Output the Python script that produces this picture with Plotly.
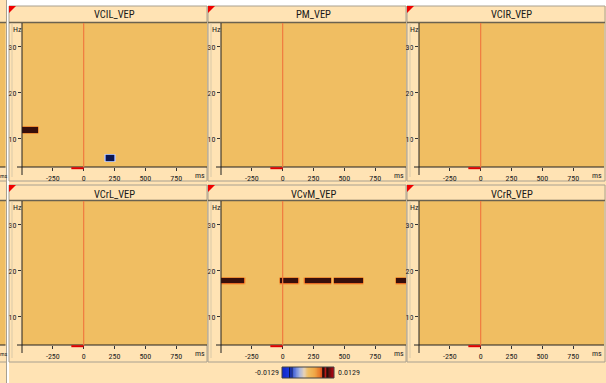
import numpy as np
import plotly.graph_objects as go

W, H = 606, 383
FONT = "Roboto Condensed, DejaVu Sans Condensed, sans-serif"

# ---------------- data ----------------
channels = ["VCIL_VEP", "PM_VEP", "VCIR_VEP", "VCrL_VEP", "VCvM_VEP", "VCrR_VEP"]
x_tickvals = [-250, 0, 250, 500, 750]
x_ticktext = ["-250", "0", "250", "500", "750"]
y_tickvals = [10, 20, 30]
y_ticktext = ["10", "20", "30"]
time_range = [-500, 1000]
freq_range = [3.9, 35.2]
z_limit = 0.0129
z_labels = ["-0.0129", "0.0129"]
baseline_ms = [-100, 0]

# significant clusters per channel: start ms, end ms, low Hz, high Hz, value
blob_channel = ["VCIL_VEP", "VCIL_VEP",
                "VCvM_VEP", "VCvM_VEP", "VCvM_VEP", "VCvM_VEP", "VCvM_VEP"]
blob_t0 = [-500, 170, -500, -35, 168, 411, 914]
blob_t1 = [-365, 240, -319, 135, 387, 646, 1000]
blob_f0 = [11.3, 5.4, 17.2, 17.2, 17.2, 17.2, 17.2]
blob_f1 = [12.6, 6.8, 18.9, 18.9, 18.9, 18.9, 18.9]
blob_val = [0.0091, -0.0091, 0.0091, 0.0091, 0.0091, 0.0091, 0.0091]

# time-frequency sampling grid
t_grid = np.arange(-500, 1001, 20)
f_grid = np.arange(3.5, 35.6, 0.5)

colorscale = [
    [0.00, "#1026C8"], [0.12, "#1A38DC"], [0.13, "#0C1650"], [0.15, "#0C1650"],
    [0.165, "#2644D8"], [0.19, "#101C60"], [0.22, "#4A68DA"], [0.33, "#A4B4E2"],
    [0.42, "#E6D2B8"], [0.50, "#F0BE62"], [0.62, "#F0A848"], [0.72, "#E87828"],
    [0.76, "#E05020"], [0.775, "#2A0E0A"], [0.805, "#2A0E0A"], [0.83, "#C81818"],
    [0.855, "#2A0E0A"], [0.875, "#2A0E0A"], [0.90, "#5A1010"], [1.00, "#C80012"],
]

# ---------------- geometry (pixels) ----------------
panel_left = [9, 208, 407]
plot_left = [22, 221, 419]
plot_right = [207, 406, 604]
panel_right = [207, 406, 605]
panel_top = [6, 185]
plot_top = [23, 201]
plot_bottom = [167, 345]
panel_bottom = [181, 362]
cbar_box = [282, 334, 367, 378]  # left, right, top, bottom


def PX(x):
    return x / W


def PY(y):
    return 1 - y / H


BEIGE = "#FFE3B4"
ORANGE = "#F0BE62"
TXT = "#222222"

fig = go.Figure()
shapes = []
annotations = []
layout_axes = {}

for i, ch in enumerate(channels):
    r, c = divmod(i, 3)
    k = i + 1
    xa = "x" if k == 1 else f"x{k}"
    ya = "y" if k == 1 else f"y{k}"
    z = np.zeros((len(f_grid), len(t_grid)))
    for bc, t0, t1, f0, f1, v in zip(blob_channel, blob_t0, blob_t1, blob_f0, blob_f1, blob_val):
        if bc != ch:
            continue
        fm = (f_grid >= f0) & (f_grid <= f1)
        tm = (t_grid >= t0) & (t_grid <= t1)
        z[np.ix_(fm, tm)] = v
    fig.add_trace(go.Heatmap(
        x=t_grid, y=f_grid, z=z, colorscale=colorscale, zmin=-z_limit, zmax=z_limit,
        zsmooth="best", xaxis=xa, yaxis=ya, hoverinfo="skip", showscale=False,
    ))

    xkey = "xaxis" if k == 1 else f"xaxis{k}"
    ykey = "yaxis" if k == 1 else f"yaxis{k}"
    layout_axes[xkey] = dict(
        domain=[PX(plot_left[c]), PX(plot_right[c])], anchor=ya, range=time_range,
        tickvals=x_tickvals, ticktext=x_ticktext, ticks="outside", ticklen=3,
        tickwidth=1, tickcolor="#333", showgrid=False, zeroline=False, showline=False,
        tickfont=dict(family=FONT, size=8, color=TXT), fixedrange=True,
    )
    layout_axes[ykey] = dict(
        domain=[PY(plot_bottom[r]), PY(plot_top[r])], anchor=xa, range=freq_range,
        tickvals=y_tickvals, ticktext=y_ticktext, ticks="outside", ticklen=3,
        tickwidth=1, tickcolor="#333", showgrid=False, zeroline=False, showline=False,
        tickfont=dict(family=FONT, size=8, color=TXT), fixedrange=True,
    )

    pl, pr, pt, pb = plot_left[c], plot_right[c], plot_top[r], plot_bottom[r]
    L, R, T, B = panel_left[c], panel_right[c], panel_top[r], panel_bottom[r]
    shapes.append(dict(type="rect", xref="paper", yref="paper", x0=PX(L), x1=PX(R),
                       y0=PY(B), y1=PY(T), line=dict(color="#A8A090", width=1),
                       fillcolor="rgba(0,0,0,0)", layer="below"))
    shapes.append(dict(type="line", xref="paper", yref="paper", x0=PX(L), x1=PX(R),
                       y0=PY(pt - 0.5), y1=PY(pt - 0.5), line=dict(color="#6A6250", width=1.5)))
    shapes.append(dict(type="line", xref="paper", yref="paper", x0=PX(L + 3), x1=PX(L + 3),
                       y0=PY(pt), y1=PY(B - 4), line=dict(color="#D9C9A8", width=1)))
    shapes.append(dict(type="line", xref="paper", yref="paper", x0=PX(pl - 5), x1=PX(pr),
                       y0=PY(pb), y1=PY(pb), line=dict(color="#202020", width=1)))
    shapes.append(dict(type="line", xref="paper", yref="paper", x0=PX(pl), x1=PX(pl),
                       y0=PY(pt), y1=PY(pb + 8), line=dict(color="#202020", width=1)))
    shapes.append(dict(type="line", xref=xa, yref=f"{ya} domain", x0=0, x1=0, y0=0, y1=1,
                       line=dict(color="#F07A40", width=1.2)))
    shapes.append(dict(type="line", xref=xa, yref=f"{ya} domain", x0=baseline_ms[0],
                       x1=baseline_ms[1], y0=-1.2 / (pb - pt), y1=-1.2 / (pb - pt),
                       line=dict(color="#E00000", width=2)))
    shapes.append(dict(type="path", xref="paper", yref="paper",
                       path=f"M {PX(L)},{PY(T)} L {PX(L + 7)},{PY(T)} L {PX(L)},{PY(T + 7)} Z",
                       fillcolor="#F00000", line=dict(width=0)))
    annotations.append(dict(text=ch, xref="paper", yref="paper", x=PX((pl + pr) / 2),
                            y=PY(T + 9), xanchor="center", yanchor="middle", showarrow=False,
                            font=dict(family=FONT, size=10.5, color="#181818")))
    annotations.append(dict(text="Hz", xref="paper", yref="paper", x=PX(pl - 5),
                            y=PY(pt + 6.5), xanchor="center", yanchor="middle", showarrow=False,
                            font=dict(family=FONT, size=8, color=TXT)))
    annotations.append(dict(text="ms", xref="paper", yref="paper", x=PX(pr - 7),
                            y=PY(pb + 8.5), xanchor="center", yanchor="middle", showarrow=False,
                            font=dict(family=FONT, size=8, color=TXT)))

# colour scale bar drawn on its own small axis
cbar_values = np.linspace(-z_limit, z_limit, 120)
fig.add_trace(go.Heatmap(x=cbar_values, y=[0, 1], z=[cbar_values, cbar_values],
                         colorscale=colorscale, zmin=-z_limit, zmax=z_limit, zsmooth="best",
                         xaxis="x7", yaxis="y7", hoverinfo="skip", showscale=False))
layout_axes["xaxis7"] = dict(domain=[PX(cbar_box[0]), PX(cbar_box[1])], anchor="y7",
                             range=[-z_limit, z_limit], visible=False, fixedrange=True)
layout_axes["yaxis7"] = dict(domain=[PY(cbar_box[3]), PY(cbar_box[2])], anchor="x7",
                             range=[0, 1], visible=False, fixedrange=True)
shapes.append(dict(type="rect", xref="paper", yref="paper", x0=PX(cbar_box[0]), x1=PX(cbar_box[1]),
                   y0=PY(cbar_box[3]), y1=PY(cbar_box[2]), line=dict(color="#404040", width=1)))
cy = (cbar_box[2] + cbar_box[3]) / 2
annotations.append(dict(text=z_labels[0], xref="paper", yref="paper", x=PX(cbar_box[0] - 1.5), y=PY(cy),
                        xanchor="right", yanchor="middle", showarrow=False,
                        font=dict(family=FONT, size=8, color=TXT)))
annotations.append(dict(text=z_labels[1], xref="paper", yref="paper", x=PX(cbar_box[1] + 1.5), y=PY(cy),
                        xanchor="left", yanchor="middle", showarrow=False,
                        font=dict(family=FONT, size=8, color=TXT)))

# background decorations: white strips and left partial column
shapes.insert(0, dict(type="rect", xref="paper", yref="paper", x0=PX(9), x1=1, y0=PY(6), y1=1,
                      fillcolor="white", line=dict(width=0), layer="below"))
shapes.insert(0, dict(type="rect", xref="paper", yref="paper", x0=PX(7), x1=PX(9), y0=0, y1=1,
                      fillcolor="white", line=dict(width=0), layer="below"))
for r in range(2):
    shapes.append(dict(type="rect", xref="paper", yref="paper", x0=0, x1=PX(5.5),
                       y0=PY(plot_bottom[r]), y1=PY(plot_top[r]), fillcolor=ORANGE,
                       line=dict(width=0), layer="below"))
    shapes.append(dict(type="line", xref="paper", yref="paper", x0=0, x1=PX(5.5),
                       y0=PY(plot_bottom[r]), y1=PY(plot_bottom[r]), line=dict(color="#202020", width=1)))
    shapes.append(dict(type="line", xref="paper", yref="paper", x0=0, x1=PX(7),
                       y0=PY(plot_top[r] - 0.5), y1=PY(plot_top[r] - 0.5), line=dict(color="#6A6250", width=1.5)))
    shapes.append(dict(type="line", xref="paper", yref="paper", x0=0, x1=PX(7),
                       y0=PY(panel_bottom[r]), y1=PY(panel_bottom[r]), line=dict(color="#A8A090", width=1)))
    annotations.append(dict(text="ms", xref="paper", yref="paper", x=PX(9.5),
                            y=PY(plot_bottom[r] + 8.5), xanchor="right", yanchor="middle", showarrow=False,
                            font=dict(family=FONT, size=6, color=TXT)))
shapes.append(dict(type="line", xref="paper", yref="paper", x0=PX(6.5), x1=PX(6.5), y0=0, y1=1,
                   line=dict(color="#A8A090", width=1)))

fig.update_layout(
    width=W, height=H, margin=dict(l=0, r=0, t=0, b=0),
    paper_bgcolor=BEIGE, plot_bgcolor=ORANGE, showlegend=False,
    shapes=shapes, annotations=annotations, **layout_axes,
)

fig.write_html("out.html", config={"displayModeBar": False},
               post_script="document.body.style.margin='0';")
